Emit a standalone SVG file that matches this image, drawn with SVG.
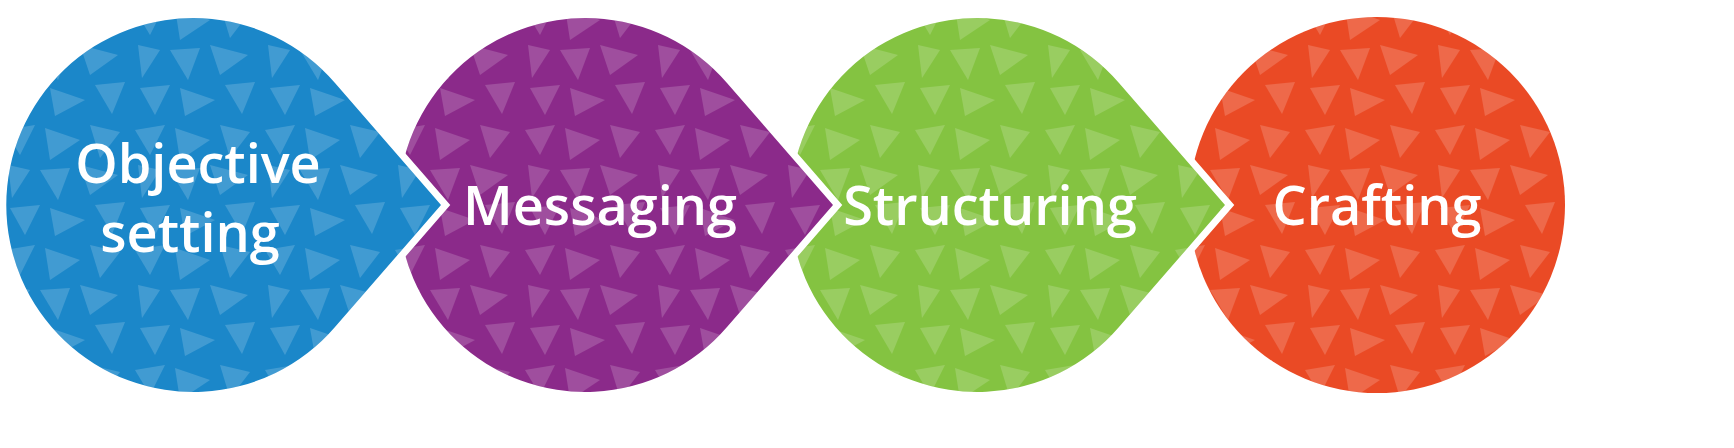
<svg xmlns="http://www.w3.org/2000/svg" width="1734" height="448" viewBox="0 0 1734 448">
<style>
.sh{stroke:#fff;stroke-width:14;paint-order:stroke;stroke-linejoin:miter}
.pt{fill:url(#tri)}
.lb{font-family:"Open Sans","Liberation Sans",sans-serif;font-weight:600;font-size:54px;fill:#fff;text-anchor:middle}
</style>
<defs>
<pattern id="tri" width="130" height="120" patternUnits="userSpaceOnUse">
<g fill="#fff" fill-opacity="0.17">
<polygon points="5,10 35,5 20,35"/>
<polygon points="45,8 80,20 50,40"/>
<polygon points="90,5 120,12 100,38"/>
<polygon points="8,45 30,50 12,78"/>
<polygon points="40,50 70,48 58,80"/>
<polygon points="80,45 118,55 90,75"/>
<polygon points="10,88 40,85 25,115"/>
<polygon points="50,88 85,100 55,116"/>
<polygon points="95,85 125,82 112,114"/>
</g>
</pattern>
</defs>
<g id="node-crafting">
<circle class="sh" fill="#ea4a25" cx="1377" cy="205" r="188"/>
<circle class="pt" cx="1377" cy="205" r="188"/>
<text class="lb" x="1377" y="225">Crafting</text>
</g>
<g id="node-structuring">
<path class="sh" fill="#84c341" d="M1119,83 L1225,205 L1119,327 A187 187 0 1 1 1119,83 Z"/>
<path class="pt" d="M1119,83 L1225,205 L1119,327 A187 187 0 1 1 1119,83 Z"/>
<text class="lb" x="990" y="225">Structuring</text>
</g>
<g id="node-messaging">
<path class="sh" fill="#8b2a8a" d="M727,83 L833,205 L727,327 A187 187 0 1 1 727,83 Z"/>
<path class="pt" d="M727,83 L833,205 L727,327 A187 187 0 1 1 727,83 Z"/>
<text class="lb" x="600" y="225">Messaging</text>
</g>
<g id="node-objective">
<path class="sh" fill="#1b87c9" d="M335,83 L441,205 L335,327 A187 187 0 1 1 335,83 Z"/>
<path class="pt" d="M335,83 L441,205 L335,327 A187 187 0 1 1 335,83 Z"/>
<text class="lb" x="198" y="183">Objective</text>
<text class="lb" x="190" y="252">setting</text>
</g>
<g id="connectors"/>
</svg>
